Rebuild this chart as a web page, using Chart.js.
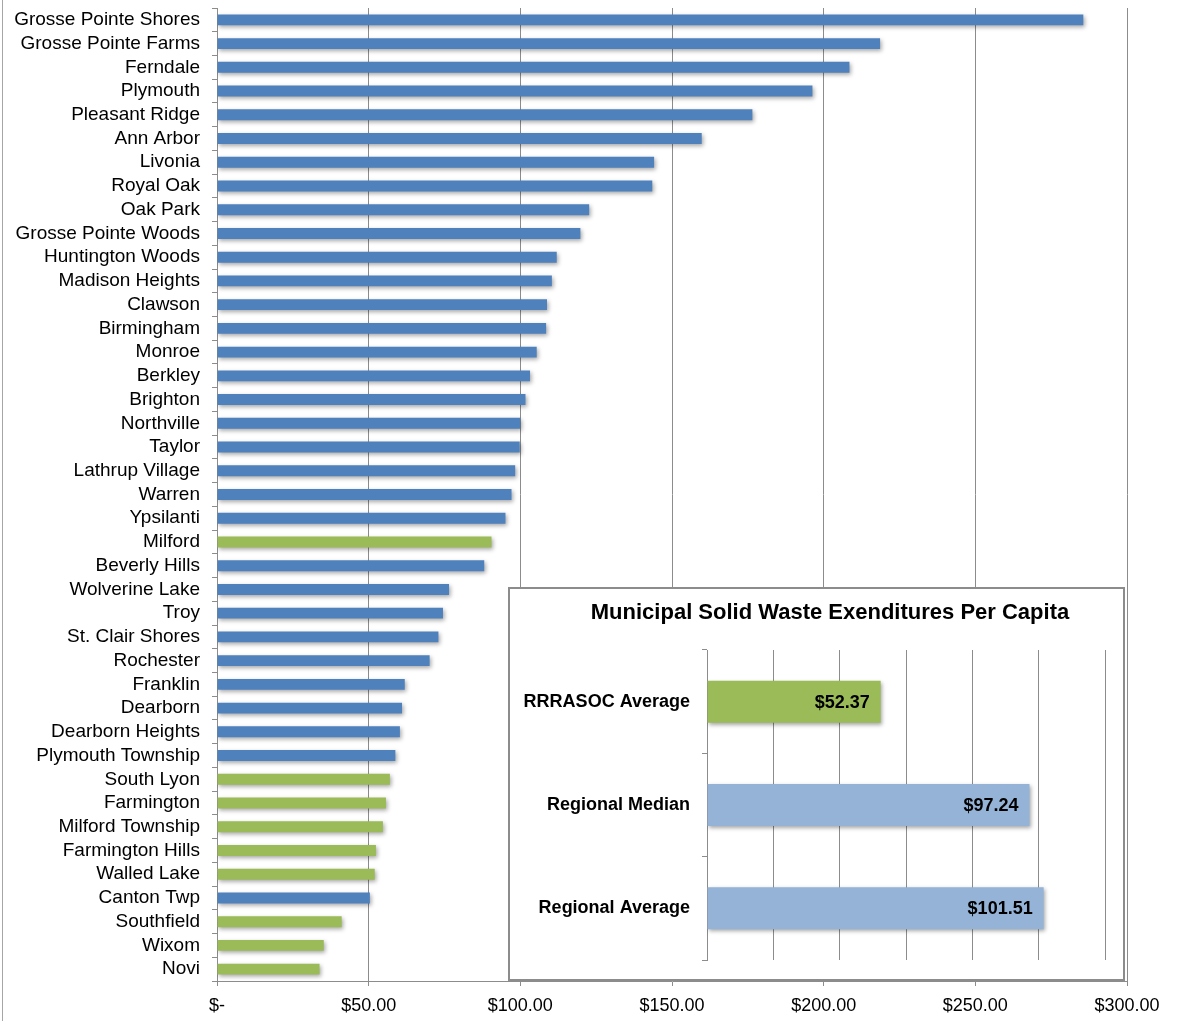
<!DOCTYPE html>
<html>
<head>
<meta charset="utf-8">
<script src="https://cdn.jsdelivr.net/npm/chart.js@4.4.1/dist/chart.umd.min.js"></script>
<style>
  html, body { margin: 0; padding: 0; background: #fff; }
  #wrap { position: relative; width: 1186px; height: 1021px; overflow: hidden; }
  #edge { position: absolute; left: 2px; top: 0; width: 1px; height: 1021px; background: #a6a6a6; }
  #inset {
    position: absolute; left: 508px; top: 587px; width: 617px; height: 394px;
    box-sizing: border-box; border: 2px solid #8c8c8c; background: #fff;
  }
  #insetChart { position: absolute; left: 0; top: 0; }
</style>
</head>
<body>
<div id="wrap">
  <canvas id="mainChart" width="1186" height="1021"></canvas>
  <div id="edge"></div>
  <div id="inset"><canvas id="insetChart" width="613" height="390"></canvas></div>
</div>
<script>
// per capita spend, by community
const cities = [
  'Grosse Pointe Shores', 'Grosse Pointe Farms', 'Ferndale', 'Plymouth', 'Pleasant Ridge',
  'Ann Arbor', 'Livonia', 'Royal Oak', 'Oak Park', 'Grosse Pointe Woods',
  'Huntington Woods', 'Madison Heights', 'Clawson', 'Birmingham', 'Monroe',
  'Berkley', 'Brighton', 'Northville', 'Taylor', 'Lathrup Village',
  'Warren', 'Ypsilanti', 'Milford', 'Beverly Hills', 'Wolverine Lake',
  'Troy', 'St. Clair Shores', 'Rochester', 'Franklin', 'Dearborn',
  'Dearborn Heights', 'Plymouth Township', 'South Lyon', 'Farmington', 'Milford Township',
  'Farmington Hills', 'Walled Lake', 'Canton Twp', 'Southfield', 'Wixom', 'Novi'
];
const spend = [
  285.6, 218.6, 208.5, 196.3, 176.5,
  159.8, 144.1, 143.5, 122.7, 119.8,
  112.0, 110.4, 108.8, 108.5, 105.4,
  103.2, 101.7, 100.0, 99.8, 98.3,
  97.1, 95.1, 90.5, 88.1, 76.5,
  74.5, 73.0, 70.1, 61.9, 61.0,
  60.3, 58.8, 57.0, 55.7, 54.7,
  52.4, 52.0, 50.4, 41.1, 35.2, 33.8
];
// RRRASOC member communities (drawn green)
const members = [
  'Milford', 'South Lyon', 'Farmington', 'Milford Township', 'Farmington Hills',
  'Walled Lake', 'Southfield', 'Wixom', 'Novi'
];
const xTicks = [0, 50, 100, 150, 200, 250, 300];

const summaryTitle = 'Municipal Solid Waste Exenditures Per Capita';
const summaryLabels = ['RRRASOC Average', 'Regional Median', 'Regional Average'];
const summaryValues = [52.37, 97.24, 101.51];
const summaryTicks = [0, 20, 40, 60, 80, 100, 120];

const BLUE = '#4F81BD';
const GREEN = '#9BBB59';
const LIGHTBLUE = '#95B3D7';
const GRID = '#8c8c8c';
const FONT = '"Liberation Sans", Arial, Helvetica, sans-serif';

// soft excel-like drop shadow under the bars
const barShadow = {
  id: 'barShadow',
  beforeDatasetDraw(chart) {
    const ctx = chart.ctx;
    ctx.save();
    ctx.shadowColor = 'rgba(0,0,0,0.35)';
    ctx.shadowBlur = 4;
    ctx.shadowOffsetX = 1.5;
    ctx.shadowOffsetY = 2;
  },
  afterDatasetDraw(chart) {
    chart.ctx.restore();
  }
};

const money = v => v === 0 ? '$-' : '$' + v.toFixed(2);

// keep the category axis from adding its own half-label padding
const fixWidth = w => s => {
  s.width = w;
  s.paddingTop = 0;
  s.paddingBottom = 0;
};

new Chart(document.getElementById('mainChart'), {
  type: 'bar',
  data: {
    labels: cities,
    datasets: [{
      data: spend,
      backgroundColor: cities.map(c => members.includes(c) ? GREEN : BLUE),
      borderWidth: 0,
      categoryPercentage: 1,
      barPercentage: 0.46
    }]
  },
  options: {
    indexAxis: 'y',
    responsive: false,
    animation: false,
    layout: { padding: { top: 8, right: 59, bottom: 0, left: 0 } },
    scales: {
      x: {
        min: 0,
        max: 300,
        afterBuildTicks: s => { s.ticks = xTicks.map(v => ({ value: v })); },
        afterFit: s => { s.height = 40; },
        grid: { color: GRID, lineWidth: 1, tickLength: 5 },
        border: { color: GRID, width: 1 },
        ticks: {
          color: '#000',
          font: { family: FONT, size: 18 },
          padding: 9,
          maxRotation: 0,
          callback: v => money(v)
        }
      },
      y: {
        afterFit: fixWidth(217),
        grid: { offset: true, drawOnChartArea: false, color: GRID, tickLength: 5 },
        border: { color: GRID, width: 1 },
        ticks: {
          color: '#000',
          font: { family: FONT, size: 19 },
          padding: 12,
          autoSkip: false
        }
      }
    },
    plugins: {
      legend: { display: false },
      tooltip: { enabled: false }
    }
  },
  plugins: [barShadow]
});

// value labels inside the summary bars, plus the inset heading
const barValues = {
  id: 'barValues',
  afterDraw(chart) {
    const ctx = chart.ctx;
    const meta = chart.getDatasetMeta(0);
    ctx.save();
    ctx.fillStyle = '#000';
    ctx.textBaseline = 'middle';
    ctx.font = 'bold 18px ' + FONT;
    ctx.textAlign = 'right';
    meta.data.forEach((bar, i) => {
      ctx.fillText('$' + summaryValues[i].toFixed(2), bar.x - 11, bar.y + 1);
    });
    // heading sits a little right of the canvas centre, as in the original
    ctx.font = 'bold 22px ' + FONT;
    ctx.textAlign = 'center';
    ctx.fillText(summaryTitle, 320, 24);
    ctx.restore();
  }
};

new Chart(document.getElementById('insetChart'), {
  type: 'bar',
  data: {
    labels: summaryLabels,
    datasets: [{
      data: summaryValues,
      backgroundColor: [GREEN, LIGHTBLUE, LIGHTBLUE],
      borderWidth: 0,
      categoryPercentage: 1,
      barPercentage: 0.406
    }]
  },
  options: {
    indexAxis: 'y',
    responsive: false,
    animation: false,
    layout: { padding: { top: 61, right: 18, bottom: 0, left: 0 } },
    scales: {
      x: {
        min: 0,
        max: 120,
        afterBuildTicks: s => { s.ticks = summaryTicks.map(v => ({ value: v })); },
        afterFit: s => { s.height = 19; },
        grid: { color: GRID, lineWidth: 1, drawTicks: false },
        border: { display: false },
        ticks: { display: false }
      },
      y: {
        afterFit: fixWidth(197),
        grid: { offset: true, drawOnChartArea: false, color: GRID, tickLength: 5 },
        border: { color: GRID, width: 1 },
        ticks: {
          color: '#000',
          font: { family: FONT, size: 18, weight: 'bold' },
          padding: 12
        }
      }
    },
    plugins: {
      legend: { display: false },
      tooltip: { enabled: false }
    }
  },
  plugins: [barShadow, barValues]
});
</script>
</body>
</html>
